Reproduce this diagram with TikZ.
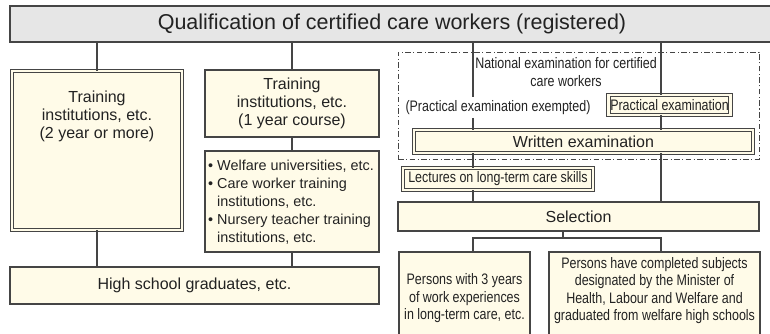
\documentclass[tikz,border=0pt]{standalone}
\usepackage{fontspec}
\setmainfont{Liberation Sans}
\newfontfamily\narrowfont[FakeStretch=0.82]{Liberation Sans}
\definecolor{linec}{HTML}{454545}
\definecolor{cream}{HTML}{FFFBE8}
\definecolor{titlegray}{HTML}{E6E6E6}
\definecolor{txtc}{HTML}{222222}
\definecolor{dashc}{HTML}{444444}
\begin{document}
\begin{tikzpicture}[x=1pt,y=-1pt,
  conn/.style={draw=linec, line width=1.2pt},
  box/.style={draw=linec, fill=cream, line width=1.2pt, inner sep=0pt, outer sep=0pt, text=txtc},
  dbox/.style={box, double=cream, double distance=2.2pt, line width=1.05pt},
  titlebox/.style={draw=linec, fill=titlegray, line width=1.3pt, inner sep=0pt, text=txtc,
    font=\fontsize{21.5}{24}\selectfont},
  big/.style={font=\fontsize{16}{18}\selectfont, align=center, text=txtc},
  small/.style={font=\fontsize{14.4}{18}\selectfont, align=left, text=txtc},
  nar/.style={font=\narrowfont\fontsize{15.2}{17.5}\selectfont, align=center, text=txtc},
  dashbox/.style={draw=dashc, line width=0.9pt, dash pattern=on 5.5pt off 2.5pt on 1pt off 2.5pt, inner sep=0pt}
]
\useasboundingbox (0,0) rectangle (770,334);
\clip (0,0) rectangle (770,334);
\fill[white] (0,0) rectangle (770,334);

\coordinate (xa) at (473,0);
\coordinate (xb) at (661,0);
\coordinate (j) at (563,238);

% title
\node[titlebox, minimum width=764, minimum height=36] (T) at (392,24) {Qualification of certified care workers (registered)};

% left side
\node[dbox, minimum width=170, minimum height=159] (L) at (97,150.5) {};
\node[big] (Ltxt) at (97,116) {Training\\institutions, etc.\\(2 year or more)};
\node[box, big, minimum width=174, minimum height=67] (M1) at (292,103.5) {Training\\institutions, etc.\\(1 year course)};
\node[box, minimum width=174, minimum height=101] (M2) at (292,201.5) {};
\node[small, anchor=west, inner sep=0pt] (M2txt) at (208,202) {\textbullet\ Welfare universities, etc.\\\textbullet\ Care worker training\\\phantom{\textbullet\ }institutions, etc.\\\textbullet\ Nursery teacher training\\\phantom{\textbullet\ }institutions, etc.};
\node[box, big, minimum width=369, minimum height=37] (HS) at (194.5,285.5) {High school graduates, etc.};

\draw[conn] (L.north) -- (L.north |- T.south);
\draw[conn] (M1.north) -- (M1.north |- T.south);
\draw[conn] (M1.south) -- (M2.north);
\draw[conn] (L.south) -- (L.south |- HS.north);
\draw[conn] (M2.south) -- (M2.south |- HS.north);

% right side
\node[dashbox, minimum width=361, minimum height=107] (D) at (578.5,105.5) {};
\node[nar] (NE) at (566,72) {National examination for certified\\care workers};
\node[nar, fill=white, inner sep=3pt] (PX) at (498,107.5) {(Practical examination exempted)};
\node[dbox, nar, minimum width=122, minimum height=20] (PE) at (669.5,105) {Practical examination};
\node[dbox, big, minimum width=339, minimum height=23] (WE) at (583.5,141.5) {Written examination};
\node[dbox, nar, minimum width=190, minimum height=22] (LE) at (498,179) {Lectures on long-term care skills};
\node[box, big, minimum width=361, minimum height=29] (SEL) at (578.5,216.5) {Selection};
\node[box, nar, minimum width=131, minimum height=93] (B1) at (464.5,298.5) {Persons with 3 years\\of work experiences\\in long-term care, etc.};
\node[box, minimum width=211, minimum height=93] (B2) at (654.5,298.5) {};
\node[nar] (B2txt) at (654.5,290.5) {Persons have completed subjects\\designated by the Minister of\\Health, Labour and Welfare and\\graduated from welfare high schools};

\draw[conn] (T.south -| xa) -- (PX.north -| xa);
\draw[conn] (PX.south -| xa) -- (WE.north -| xa);
\draw[conn] (WE.south -| xa) -- (LE.north -| xa);
\draw[conn] (LE.south -| xa) -- (SEL.north -| xa);
\draw[conn] (T.south -| xb) -- (PE.north -| xb);
\draw[conn] (PE.south -| xb) -- (WE.north -| xb);
\draw[conn] (WE.south -| xb) -- (SEL.north -| xb);
\draw[conn] (SEL.south -| j) -- (j);
\draw[conn] (B1.north -| xa) |- (j) -| (B2.north -| xb);
\end{tikzpicture}
\end{document}
